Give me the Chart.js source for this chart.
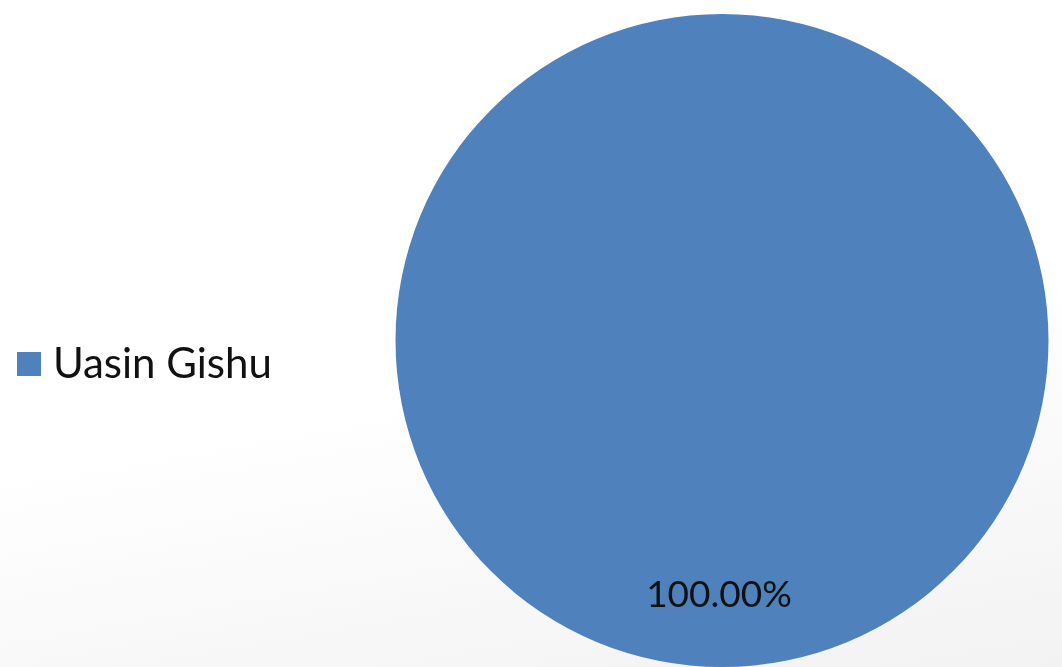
<!DOCTYPE html>
<html>
<head>
<meta charset="utf-8">
<script src="https://cdn.jsdelivr.net/npm/chart.js@4"></script>
<style>
  html, body { margin: 0; padding: 0; }
  body {
    width: 1062px; height: 667px; overflow: hidden;
    background: linear-gradient(170deg, #ffffff 0%, #ffffff 55%, #f2f2f2 100%);
  }
  #wrap { position: relative; width: 1062px; height: 667px; }
</style>
</head>
<body>
<div id="wrap"><canvas id="pieChart"></canvas></div>
<script>
const counties = ['Uasin Gishu'];
const shares = [100];
const sliceColors = ['#4F81BD'];

const fontFamily = 'Lato, "Open Sans", sans-serif';

// legend drawn on the left, percentage labels inside the slice
const pieExtras = {
    id: 'pieExtras',
    afterDraw(chart) {
        const ctx = chart.ctx;
        const meta = chart.getDatasetMeta(0);
        const total = shares.reduce((a, b) => a + b, 0);
        ctx.save();
        ctx.font = '37px ' + fontFamily;
        ctx.fillStyle = '#111';
        ctx.textBaseline = 'middle';
        ctx.textAlign = 'center';
        meta.data.forEach((arc, i) => {
            const p = arc.getProps(['x', 'y', 'startAngle', 'endAngle', 'outerRadius']);
            const mid = (p.startAngle + p.endAngle) / 2;
            const r = p.outerRadius * 0.78;
            const text = (shares[i] / total * 100).toFixed(2) + '%';
            ctx.fillText(text, p.x - 3 + Math.cos(mid) * r, p.y + Math.sin(mid) * r);
        });

        // legend
        ctx.font = '42px ' + fontFamily;
        ctx.textAlign = 'left';
        counties.forEach((name, i) => {
            const y = 364 + i * 44;
            ctx.fillStyle = sliceColors[i];
            ctx.fillRect(17, y - 12, 24, 24);
            ctx.fillStyle = '#111';
            ctx.fillText(name, 53, y);
        });
        ctx.restore();
    }
};

new Chart(document.getElementById('pieChart'), {
    type: 'pie',
    data: {
        labels: counties,
        datasets: [{
            data: shares,
            backgroundColor: sliceColors,
            borderWidth: 0
        }]
    },
    options: {
        responsive: true,
        maintainAspectRatio: false,
        animation: false,
        layout: { padding: { left: 395, right: 13, top: 14, bottom: 0 } },
        plugins: {
            legend: { display: false },
            tooltip: { enabled: false }
        }
    },
    plugins: [pieExtras]
});
</script>
</body>
</html>
